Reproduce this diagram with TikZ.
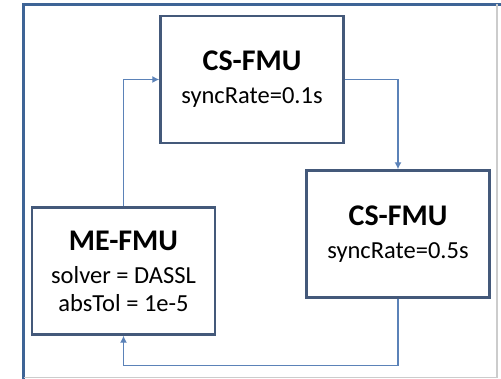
\documentclass[tikz,border=0pt]{standalone}
\usepackage{fontspec}
\setmainfont{Carlito}
\usetikzlibrary{arrows.meta}
\definecolor{boxline}{HTML}{44597A}
\definecolor{flowline}{HTML}{5B82B8}
\definecolor{frameline}{HTML}{3E6496}
\newcommand{\unitname}[1]{{\fontsize{30}{33}\selectfont\bfseries #1}}
\tikzset{
  fmu/.style={draw=boxline,line width=2.4pt,fill=white,align=center,
    minimum width=183pt,minimum height=127pt,inner sep=0pt,
    font=\fontsize{24.5}{28}\selectfont},
  flow/.style={draw=flowline,line width=1.3pt,-{Latex[length=7pt,width=7pt]}},
}
\begin{document}
\begin{tikzpicture}[x=1pt,y=-1pt,>=Latex]
      \useasboundingbox (0,0) rectangle (501,379);
      % frame of the screenshot
      \draw[frameline,line width=2.6pt] (23.5,379) -- (23.5,4.5) -- (501,4.5);
      \draw[gray!40,line width=1.2pt] (497,4.5) -- (497,377.5) -- (23.5,377.5);
      % the three units
      \node[fmu] (cs1) at (252,79.5) {\unitname{CS-FMU}\\[5pt] syncRate=0.1s};
      \node[fmu] (cs2) at (398,234) {\unitname{CS-FMU}\\[5pt] syncRate=0.5s};
      \node[fmu] (me) at (123.5,271) {\unitname{ME-FMU}\\[5pt] solver = DASSL\\ absTol = 1e-5};
      % data exchange
      \draw[flow] (me.north) |- (cs1.west);
      \draw[flow] (cs1.east) -| (cs2.north);
      \coordinate (back) at ([yshift=-67pt]cs2.south);
      \draw[flow] (cs2.south) -- (back) -| (me.south);
    \end{tikzpicture}
\end{document}
